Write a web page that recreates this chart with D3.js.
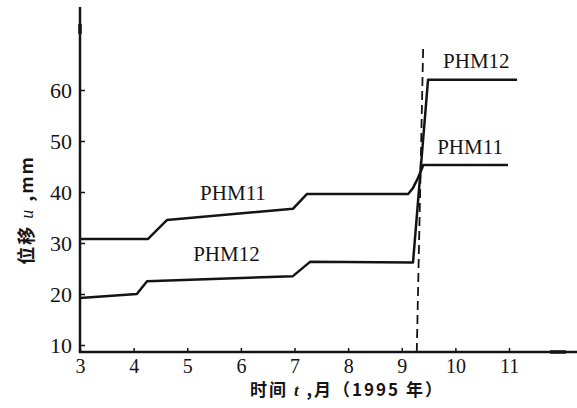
<!DOCTYPE html>
<html>
<head>
<meta charset="utf-8">
<script src="https://cdn.jsdelivr.net/npm/d3@7"></script>
<style>
	body { margin: 0; background: #fff; }
	svg { display: block; }
	.serif { font-family: 'Liberation Serif', 'Times New Roman', 'DejaVu Serif', serif; }
	.cjk { font-family: 'Noto Sans CJK SC', sans-serif; font-weight: bold; }
</style>
</head>
<body>
<div id="chart"></div>
<script>
// данные (месяц 1995 г., смещение мм)
var months = [3, 4, 5, 6, 7, 8, 9, 10, 11];
var yTicks = [10, 20, 30, 40, 50, 60];

var phm11T = [3, 4.27, 4.62, 6.97, 7.23, 9.12, 9.21, 9.30, 9.38, 9.40, 10.98];
var phm11U = [30.8, 30.8, 34.5, 36.7, 39.6, 39.6, 40.8, 42.7, 44.7, 45.3, 45.3];

var phm12T = [3, 4.06, 4.25, 6.97, 7.29, 9.21, 9.49, 11.15];
var phm12U = [19.2, 20.0, 22.5, 23.5, 26.3, 26.2, 62.0, 62.0];

// штриховая линия (момент события)
var dashT = [9.28, 9.40];
var dashU = [8.63, 68.7];

var labelNames = ['PHM11', 'PHM12', 'PHM12', 'PHM11'];
var labelT = [5.24, 5.11, 9.77, 9.66];
var labelU = [38.4, 26.5, 64.3, 47.5];

var W = 577, H = 408;

var svg = d3.select('#chart')
	.append('svg')
	.attr('width', W)
	.attr('height', H);

var x = d3.scaleLinear().domain([3, 11]).range([80, 509]);
var y = d3.scaleLinear().domain([10, 60]).range([345, 90]);
var y0 = y(8.63);

var ink = 'rgb(20,20,20)';

// оси
svg.append('line')
	.attr('x1', 80).attr('y1', 7)
	.attr('x2', 80).attr('y2', y0)
	.attr('stroke', ink).attr('stroke-width', 2.5);

svg.append('line')
	.attr('x1', 80).attr('y1', 24)
	.attr('x2', 80).attr('y2', 34)
	.attr('stroke', ink).attr('stroke-width', 3.5);

svg.append('line')
	.attr('x1', 78.8).attr('y1', y0)
	.attr('x2', 577).attr('y2', y0)
	.attr('stroke', ink).attr('stroke-width', 2.5);

svg.append('line')
	.attr('x1', 550).attr('y1', y0)
	.attr('x2', 566).attr('y2', y0)
	.attr('stroke', ink).attr('stroke-width', 3.5);

svg.append('g')
	.attr('transform', 'translate(0,' + y0 + ')')
	.call(d3.axisBottom(x).tickValues(months).tickSize(-4).tickPadding(7).tickFormat(d3.format('d')))
	.call(function (g) { g.select('.domain').remove(); })
	.call(function (g) {
		g.attr('font-family', null).attr('font-size', null);
		g.selectAll('line').attr('stroke', ink).attr('stroke-width', 1.5);
		g.selectAll('text')
			.attr('class', 'serif')
			.attr('fill', ink)
			.style('font-size', '20px');
	});

svg.append('g')
	.attr('transform', 'translate(80,0)')
	.call(d3.axisLeft(y).tickValues(yTicks).tickSize(-5).tickPadding(8).tickFormat(d3.format('d')))
	.call(function (g) { g.select('.domain').remove(); })
	.call(function (g) {
		g.attr('font-family', null).attr('font-size', null);
		g.selectAll('line').attr('stroke', ink).attr('stroke-width', 1.5);
		g.selectAll('text')
			.attr('class', 'serif')
			.attr('fill', ink)
			.style('font-size', '22px');
	});

// линии
var line = d3.line()
	.x(function (d) { return x(d[0]); })
	.y(function (d) { return y(d[1]); });

svg.append('path')
	.datum(d3.zip(dashT, dashU))
	.attr('d', line)
	.attr('fill', 'none')
	.attr('stroke', ink)
	.attr('stroke-width', 1.8)
	.attr('stroke-dasharray', '9,5');

svg.append('path')
	.datum(d3.zip(phm11T, phm11U))
	.attr('d', line)
	.attr('fill', 'none')
	.attr('stroke', ink)
	.attr('stroke-width', 2.5)
	.attr('stroke-linejoin', 'round');

svg.append('path')
	.datum(d3.zip(phm12T, phm12U))
	.attr('d', line)
	.attr('fill', 'none')
	.attr('stroke', ink)
	.attr('stroke-width', 2.5)
	.attr('stroke-linejoin', 'round');

// подписи
svg.selectAll('.lbl')
	.data(labelNames)
	.enter()
	.append('text')
	.attr('class', 'lbl serif')
	.attr('x', function (d, i) { return x(labelT[i]); })
	.attr('y', function (d, i) { return y(labelU[i]); })
	.attr('fill', ink)
	.style('font-size', '21px')
	.text(function (d) { return d; });

svg.append('text')
	.attr('class', 'cjk')
	.attr('x', 347)
	.attr('y', 396)
	.attr('text-anchor', 'middle')
	.attr('fill', ink)
	.style('font-size', '17px')
	.style('letter-spacing', '2px')
	.html('时间 <tspan class="serif" font-style="italic">t</tspan> ,月（1995 年）');

svg.append('text')
	.attr('class', 'cjk')
	.attr('transform', 'translate(33,210) rotate(-90)')
	.attr('text-anchor', 'middle')
	.attr('fill', ink)
	.style('font-size', '18px')
	.style('letter-spacing', '2px')
	.html('位移 <tspan class="serif" font-style="italic" font-weight="normal">u</tspan> ,mm');
</script>
</body>
</html>
